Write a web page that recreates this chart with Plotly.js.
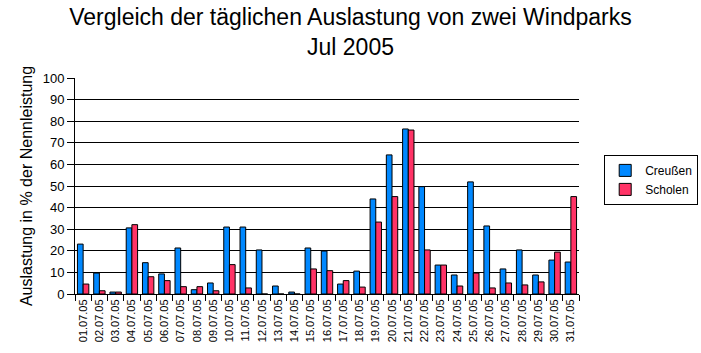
<!DOCTYPE html>
<html>
<head>
<meta charset="utf-8">
<script src="https://cdn.plot.ly/plotly-3.0.1.min.js"></script>
<style>html,body{margin:0;padding:0;background:#fff;}#chart{width:701px;height:353px;}</style>
</head>
<body>
<div id="chart"></div>
<script>
const dates = ["01.07.05","02.07.05","03.07.05","04.07.05","05.07.05","06.07.05","07.07.05","08.07.05","09.07.05","10.07.05","11.07.05","12.07.05","13.07.05","14.07.05","15.07.05","16.07.05","17.07.05","18.07.05","19.07.05","20.07.05","21.07.05","22.07.05","23.07.05","24.07.05","25.07.05","26.07.05","27.07.05","28.07.05","29.07.05","30.07.05","31.07.05"];
const creussen = [23.1,9.7,0.9,30.6,14.5,9.3,21.3,2.0,5.1,31.0,31.0,20.4,3.7,0.9,21.3,19.9,4.6,10.6,44.0,64.4,76.4,49.7,13.4,8.8,51.9,31.5,11.6,20.4,8.8,15.7,14.8];
const scholen = [4.6,1.5,0.9,32.1,8.0,6.2,3.4,3.4,1.5,13.6,2.8,0,0,0,11.6,10.8,6.2,3.2,33.3,45.1,75.9,20.4,13.4,3.7,9.7,2.8,5.1,4.2,5.6,19.4,45.1];
const yTicks = [0,10,20,30,40,50,60,70,80,90,100];

const font = "Liberation Sans, Arial, sans-serif";
const traces = [
  {type:"bar", name:"Creußen", x:dates, y:creussen, marker:{color:"#0088FF", line:{color:"#000", width:1}}},
  {type:"bar", name:"Scholen", x:dates, y:scholen, marker:{color:"#FF3366", line:{color:"#000", width:1}}}
];
const layout = {
  width:701, height:353,
  margin:{l:75, r:122, t:78, b:59, autoexpand:false},
  paper_bgcolor:"#fff", plot_bgcolor:"#fff",
  font:{family:font, color:"#000", size:12},
  title:{text:"Vergleich der täglichen Auslastung von zwei Windparks<br>Jul 2005", x:0.5, xanchor:"center", yref:"container", y:0.93, yanchor:"top", font:{size:23, family:font, color:"#000"}},
  barmode:"group", bargap:0.3, bargroupgap:0,
  showlegend:true,
  legend:{x:1.05, xanchor:"left", y:0.644, yanchor:"top", bordercolor:"#000", borderwidth:1, bgcolor:"#fff", font:{size:12, family:font}, traceorder:"normal", tracegroupgap:0},
  xaxis:{type:"category", tickson:"boundaries", ticks:"outside", ticklen:6, tickcolor:"#000", tickangle:-90, tickfont:{size:11, family:font}, showline:true, linecolor:"#000", linewidth:1, showgrid:false, zeroline:false, fixedrange:true, automargin:false},
  yaxis:{range:[0,100], tickvals:yTicks, ticktext:yTicks.map(String), ticks:"outside", ticklen:7, tickcolor:"#000", tickfont:{size:13, family:font}, showline:true, linecolor:"#000", linewidth:1, showgrid:true, gridcolor:"#000", gridwidth:1, zeroline:false, automargin:false, title:{text:"Auslastung in % der Nennleistung", font:{size:16, family:font}, standoff:6}, fixedrange:true}
};
Plotly.newPlot("chart", traces, layout, {displayModeBar:false, staticPlot:true});
</script>
</body>
</html>
